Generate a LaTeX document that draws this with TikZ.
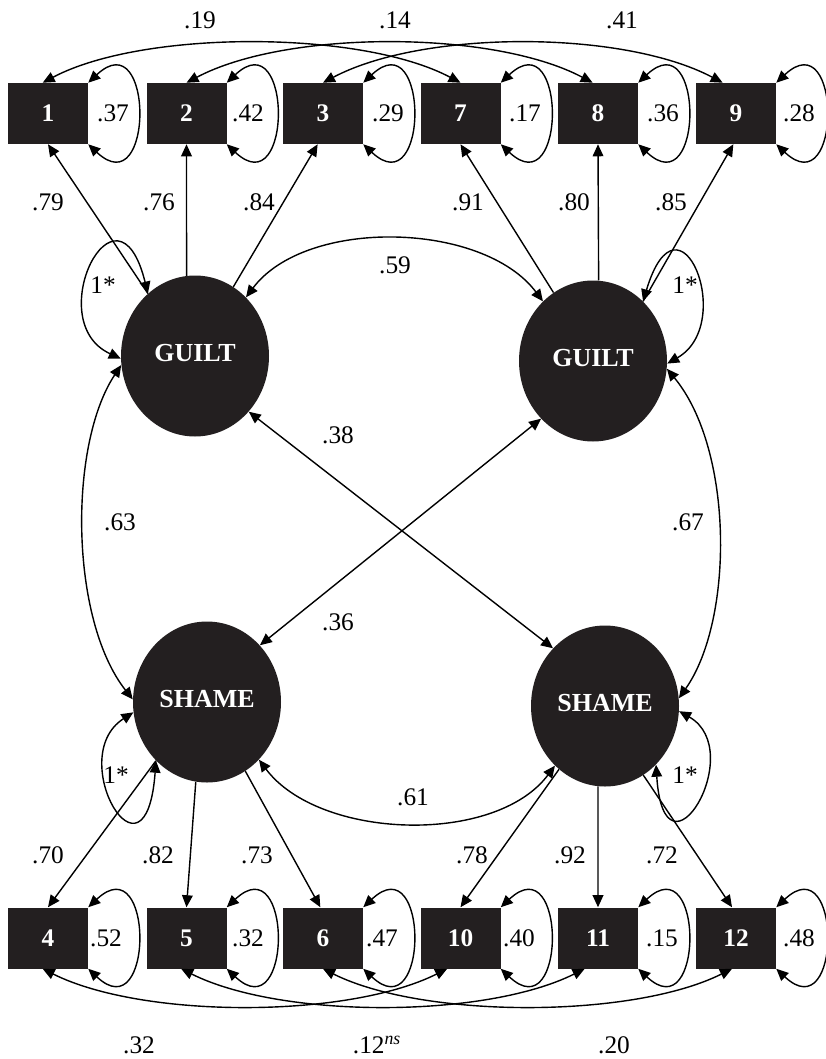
\documentclass[tikz,border=0pt]{standalone}
\usepackage{fontspec}
\setmainfont{Liberation Serif}
\usetikzlibrary{arrows.meta,shapes.geometric}
\definecolor{ink}{HTML}{231F20}

\begin{document}
\begin{tikzpicture}[x=0.75pt,y=-0.75pt,
  font=\fontsize{19}{22}\selectfont,
  item/.style={rectangle,fill=ink,minimum width=60pt,minimum height=45.75pt,
    inner sep=0pt,text=white,font=\fontsize{19}{22}\selectfont\bfseries},
  factor/.style={ellipse,fill=ink,minimum width=111pt,minimum height=120.75pt,
    inner sep=0pt,text=white,font=\fontsize{19.5}{22}\selectfont\bfseries},
  lbl/.style={inner sep=0pt},
  tip/.tip={Triangle[length=9pt,width=8pt]},
  load/.style={draw=black,line width=1.05pt,-tip},
  cov/.style={draw=black,line width=1.05pt,tip-tip},
]
\useasboundingbox (0,0) rectangle (825,1059);

% observed indicators, top row
\node[item] (b1) at (48,113.5) {1};
\node[item] (b2) at (186.5,113.5) {2};
\node[item] (b3) at (323,113.5) {3};
\node[item] (b7) at (460.5,113.5) {7};
\node[item] (b8) at (598,113.5) {8};
\node[item] (b9) at (736,113.5) {9};
% observed indicators, bottom row
\node[item] (b4) at (48,938) {4};
\node[item] (b5) at (186.5,938) {5};
\node[item] (b6) at (323,938) {6};
\node[item] (b10) at (460.5,938) {10};
\node[item] (b11) at (598,938) {11};
\node[item] (b12) at (736,938) {12};

% latent factors
\node[factor] (gl) at (195,356) {\raisebox{5pt}{GUILT}};
\node[factor] (gr) at (593,361) {\raisebox{5pt}{GUILT}};
\node[factor] (sl) at (207,702) {\raisebox{4pt}{SHAME}};
\node[factor] (sr) at (605,706) {\raisebox{5pt}{SHAME}};

% residual variances of the indicators
\foreach \b in {b1,b2,b3,b7,b8,b9,b4,b5,b6,b10,b11,b12}{
  \draw[cov] (\b.north east) .. controls +(66,-62) and +(66,62) .. (\b.south east);
}
\node[lbl] (v1) at (113,113.5) {.37};
\node[lbl] (v2) at (248,113.5) {.42};
\node[lbl] (v3) at (388,113.5) {.29};
\node[lbl] (v7) at (525,113.5) {.17};
\node[lbl] (v8) at (663,113.5) {.36};
\node[lbl] (v9) at (799,113.5) {.28};
\node[lbl] (v4) at (106,938) {.52};
\node[lbl] (v5) at (248,938) {.32};
\node[lbl] (v6) at (382,938) {.47};
\node[lbl] (v10) at (519,938) {.40};
\node[lbl] (v11) at (662,938) {.15};
\node[lbl] (v12) at (799,938) {.48};

% correlated residuals between the two rows of items
\draw[cov] ([xshift=-4pt]b1.north) .. controls +(100,-53) and +(-100,-53) .. (b7.north);
\draw[cov] (b2.north) .. controls +(100,-53) and +(-100,-53) .. ([xshift=-4pt]b8.north);
\draw[cov] (b3.north) .. controls +(100,-53) and +(-100,-53) .. ([xshift=-10pt]b9.north);
\draw[cov] ([xshift=-4pt]b4.south) .. controls +(100,50) and +(-100,50) .. ([xshift=-10pt]b10.south);
\draw[cov] ([xshift=-4pt]b5.south) .. controls +(100,50) and +(-100,50) .. ([xshift=-10pt]b11.south);
\draw[cov] (b6.south) .. controls +(100,50) and +(-100,50) .. ([xshift=-3pt]b12.south);
\node[lbl] (c19) at (200,20) {.19};
\node[lbl] (c14) at (395,20) {.14};
\node[lbl] (c41) at (622,20) {.41};
\node[lbl] (c32) at (139,1045) {.32};
\node[lbl] (c12) at (377,1045) {.12\textsuperscript{\itshape ns}};
\node[lbl] (c20) at (614,1045) {.20};

% factor loadings
\draw[load] (gl.127) -- (b1.south);
\draw[load] (gl.96) -- (b2.south);
\draw[load] (gl.61) -- ([xshift=-4pt]b3.south);
\draw[load] (gr.120) -- (b7.south);
\draw[load] (gr.86) -- (b8.south);
\draw[load] (gr.50) -- ([xshift=-2pt]b9.south);
\draw[load] (sl.229) -- (b4.north);
\draw[load] (sl.262) -- (b5.north);
\draw[load] (sl.299) -- ([xshift=-2pt]b6.north);
\draw[load] (sr.234) -- (b10.north);
\draw[load] (sr.265) -- (b11.north);
\draw[load] (sr.299) -- ([xshift=-3pt]b12.north);
\node[lbl] (l1) at (48,202) {.79};
\node[lbl] (l2) at (159,202) {.76};
\node[lbl] (l3) at (259,202) {.84};
\node[lbl] (l7) at (468,202) {.91};
\node[lbl] (l8) at (574,202) {.80};
\node[lbl] (l9) at (671,202) {.85};
\node[lbl] (l4) at (48,855) {.70};
\node[lbl] (l5) at (158,855) {.82};
\node[lbl] (l6) at (257,855) {.73};
\node[lbl] (l10) at (472,855) {.78};
\node[lbl] (l11) at (570,855) {.92};
\node[lbl] (l12) at (662,855) {.72};

% fixed factor variances
\draw[cov] (gl.127) .. controls +(-31,-125) and +(-81,-37) .. (gl.182);
\draw[cov] (gr.50) .. controls +(36,-120) and +(70,-40) .. (gr.358);
\draw[cov] (sl.188) .. controls +(-70,45) and +(-10,137) .. (sl.229);
\draw[cov] (sr.356) .. controls +(70,40) and +(8,128) .. (sr.311);
\node[lbl] (f1) at (103,285) {1*};
\node[lbl] (f2) at (685,285) {1*};
\node[lbl] (f3) at (116,775) {1*};
\node[lbl] (f4) at (685,775) {1*};

% factor correlations
\draw[cov] (gl.49) .. controls +(60,-80) and +(-60,-80) .. (gr.130);
\draw[cov] (sl.312) .. controls +(60,80) and +(-60,80) .. (sr.230);
\draw[cov] (gl.187) .. controls +(-53,80) and +(-63,-80) .. (sl.178);
\draw[cov] (gr.354) .. controls +(67,81) and +(55,-78) .. (sr.6);
\draw[cov] (gl.314) -- (sr.132);
\draw[cov] (gr.228) -- (sl.47);
\node[lbl] (r59) at (395,265) {.59};
\node[lbl] (r61) at (413,797) {.61};
\node[lbl] (r63) at (120,522) {.63};
\node[lbl] (r67) at (688,522) {.67};
\node[lbl] (r38) at (338,435) {.38};
\node[lbl] (r36) at (338,622) {.36};
\end{tikzpicture}
\end{document}
